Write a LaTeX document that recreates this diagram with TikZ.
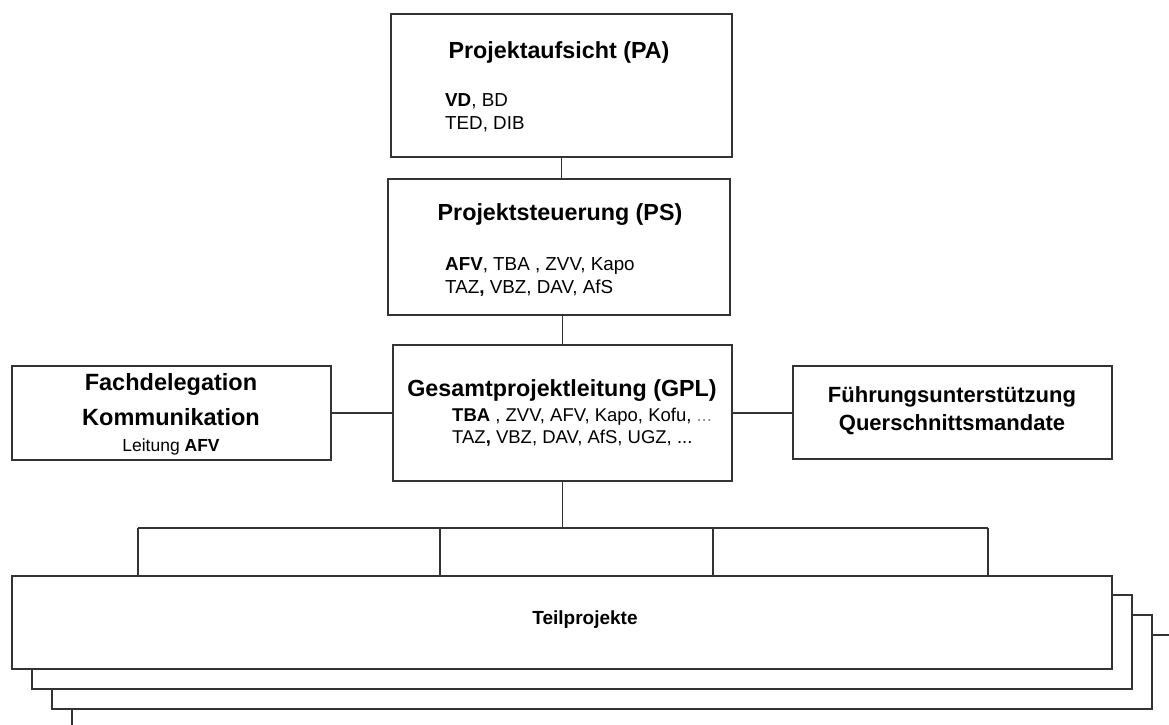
\documentclass[tikz,border=0pt]{standalone}
\usepackage{fontspec}
\setmainfont{Liberation Sans}
\usetikzlibrary{positioning,calc}

\begin{document}
\begin{tikzpicture}[x=1pt, y=-1pt,
        box/.style={rectangle, draw=black!80, line width=1.5pt, fill=white, inner sep=0pt},
        link/.style={draw=black!80, line width=1.5pt},
        head/.style={font=\fontsize{23.3}{35}\selectfont\bfseries, align=center, inner sep=0pt},
        items/.style={font=\fontsize{18.8}{23}\selectfont, align=left, inner sep=0pt, anchor=west}
    ]
    \clip (0,0) rectangle (1169,724);
    \fill[white] (0,0) rectangle (1169,724);

    % Teilprojekte (gestapelt)
    \node[box, minimum width=1100, minimum height=94] (tp3) at (622,682) {};
    \node[box, minimum width=1100, minimum height=94] (tp2) at (602,662) {};
    \node[box, minimum width=1100, minimum height=94] (tp1) at (582,642) {};
    \node[box, minimum width=1100, minimum height=93] (tp) at (562,622.5) {};
    \node[head, font=\fontsize{19}{23}\selectfont\bfseries] (tp_head) at (585,620) {Teilprojekte};

    % Hauptboxen
    \node[box, minimum width=341, minimum height=143] (pa) at (561.5,85.5) {};
    \node[head] (pa_head) at (559,52) {Projektaufsicht (PA)};
    \node[items] (pa_items) at (445,113) {\textbf{VD}, BD\\TED, DIB};

    \node[box, minimum width=342, minimum height=136] (ps) at (559,247) {};
    \node[head] (ps_head) at (560,215) {Projektsteuerung (PS)};
    \node[items] (ps_items) at (445,276.5) {\textbf{AFV}, TBA , ZVV, Kapo\\TAZ\textbf{,} VBZ, DAV, AfS};

    \node[box, minimum width=339, minimum height=136] (gpl) at (562.5,413) {};
    \node[head] (gpl_head) at (562,391) {Gesamtprojektleitung (GPL)};
    \node[items, font=\fontsize{18.5}{21.5}\selectfont] (gpl_items) at (452,427) {\textbf{TBA} , ZVV, AFV, Kapo, Kofu, {\color{black!45}...}\\TAZ\textbf{,} VBZ, DAV, AfS, UGZ, ...};

    % Seitenboxen
    \node[box, minimum width=319, minimum height=94] (fach) at (171.5,413) {};
    \node[head, font=\fontsize{23.5}{35}\selectfont\bfseries] (fach_head) at (171,399.5) {Fachdelegation\\Kommunikation};
    \node[items, anchor=center, font=\fontsize{17.5}{21}\selectfont] (fach_lead) at (171,447) {Leitung \textbf{AFV}};

    \node[box, minimum width=319, minimum height=93] (fuehr) at (952.5,412.5) {};
    \node[head, font=\fontsize{22}{28}\selectfont\bfseries] (fuehr_head) at (952,411) {Führungsunterstützung\\Querschnittsmandate};

    % Verbindungen
    \draw[link] (pa.south) -- (pa.south |- ps.north);
    \draw[link] (gpl.north |- ps.south) -- (gpl.north);
    \draw[link] (fach.east) -- (fach.east -| gpl.west);
    \draw[link] (gpl.east) -- (gpl.east -| fuehr.west);

    % Verteiler zu den Teilprojekten
    \coordinate (b1) at (138,528);
    \coordinate (b2) at (440,528);
    \coordinate (b3) at (713,528);
    \coordinate (b4) at (988,528);
    \draw[link] (gpl.south) -- (gpl.south |- b1);
    \draw[link] (b1) -- (b4);
    \foreach \b in {b1,b2,b3,b4}
        \draw[link] (\b) -- (\b |- tp.north);
\end{tikzpicture}
\end{document}
